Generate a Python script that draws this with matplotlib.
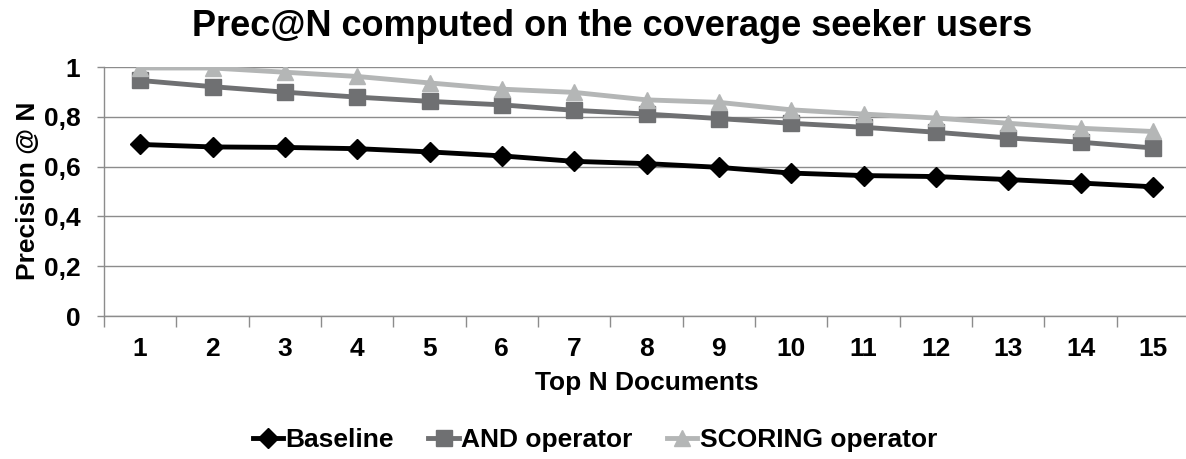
import matplotlib
matplotlib.use("Agg")
import matplotlib.pyplot as plt

plt.rcParams['font.family'] = ['Liberation Sans', 'DejaVu Sans']
plt.rcParams['font.weight'] = 'bold'

categories = [str(i) for i in range(1, 16)]
baseline = [0.689, 0.679, 0.677, 0.672, 0.659, 0.643, 0.621, 0.612, 0.597, 0.574, 0.564, 0.560, 0.548, 0.534, 0.519]
and_op = [0.946, 0.921, 0.899, 0.879, 0.862, 0.848, 0.826, 0.811, 0.793, 0.774, 0.758, 0.738, 0.715, 0.698, 0.675]
scoring_op = [0.996, 0.996, 0.979, 0.962, 0.936, 0.911, 0.898, 0.868, 0.858, 0.828, 0.811, 0.795, 0.774, 0.754, 0.741]
yticks = [0, 0.2, 0.4, 0.6, 0.8, 1.0]
ytick_labels = ['0', '0,2', '0,4', '0,6', '0,8', '1']

W, H = 1186, 459
fig = plt.figure(figsize=(W / 100, H / 100), dpi=100)
left, right, top, bottom = 104, 1189, 67, 316
ax = fig.add_axes([left / W, (H - bottom) / H, (right - left) / W, (bottom - top) / H])

x = list(range(1, len(categories) + 1))
ax.plot(x, baseline, color='black', lw=3.5, marker='D', ms=10, label='Baseline', zorder=3)
ax.plot(x, and_op, color='#6f7072', lw=3.5, marker='s', ms=11, label='AND operator', zorder=3)
ax.plot(x, scoring_op, color='#b4b6b6', lw=3.5, marker='^', ms=12, label='SCORING operator', zorder=3)

ax.set_xlim(0.5, len(categories) + 0.5)
ax.set_ylim(0, 1)
ax.set_yticks(yticks)
ax.set_yticklabels(ytick_labels)
ax.set_xticks(x)
ax.set_xticklabels(categories)
ax.set_xticks([i + 0.5 for i in range(0, len(categories) + 1)], minor=True)
ax.tick_params(axis='x', which='major', length=0, pad=15, labelsize=19)
ax.tick_params(axis='x', which='minor', length=8, color='#8c8c8c', width=1)
ax.tick_params(axis='y', length=5, color='#8c8c8c', width=1, labelsize=19, pad=12)
for lab in ax.get_xticklabels() + ax.get_yticklabels():
    lab.set_fontweight('bold')

ax.grid(axis='y', color='#8c8c8c', lw=1)
ax.set_axisbelow(True)
for s in ['top', 'right']:
    ax.spines[s].set_visible(False)
for s in ['left', 'bottom']:
    ax.spines[s].set_color('#8c8c8c')
    ax.spines[s].set_linewidth(1)

fig.text(612 / W, 1 - 27 / H, 'Prec@N computed on the coverage seeker users',
         ha='center', va='center', fontsize=26, fontweight='bold')
fig.text(28 / W, 1 - 191 / H, 'Precision @ N', rotation=90, ha='center', va='center',
         fontsize=19, fontweight='bold')
fig.text(647 / W, 1 - 383 / H, 'Top N Documents', ha='center', va='center',
         fontsize=19, fontweight='bold')

leg = fig.legend(loc='center', bbox_to_anchor=(595 / W, 1 - 440 / H), ncol=3, frameon=False,
                 handlelength=1.15, handletextpad=0.1, columnspacing=1.3,
                 prop={'weight': 'bold', 'size': 19})
fig.savefig('out.png', dpi=100)
